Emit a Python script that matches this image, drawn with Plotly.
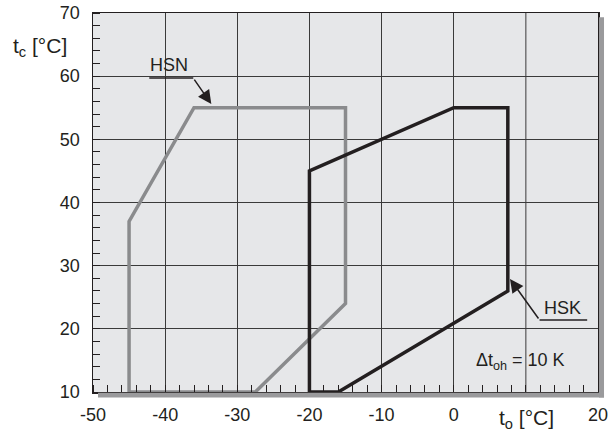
import plotly.graph_objects as go

# HSN envelope (gray)
hsn_to = [-45, -45, -36, -15, -15, -27.5, -45]
hsn_tc = [10, 37, 55, 55, 24, 10, 10]
# HSK envelope (black)
hsk_to = [-20, -20, 0, 7.5, 7.5, -16, -20]
hsk_tc = [10, 45, 55, 55, 26, 10, 10]

x_tickvals = [-50, -40, -30, -20, -10, 0, 20]
x_ticktext = ["-50", "-40", "-30", "-20", "-10", "0", "20"]
y_tickvals = [10, 20, 30, 40, 50, 60, 70]
y_ticktext = ["10", "20", "30", "40", "50", "60", "70"]
x_unlabeled_grid = [10]

FONT = "Liberation Sans, Arial, sans-serif"
TXT = "#231f20"
GRID = "#3a3a3a"

fig = go.Figure()
fig.add_trace(go.Scatter(x=hsn_to, y=hsn_tc, mode="lines",
                         line=dict(color="#8a8b8d", width=3.5), hoverinfo="skip"))
fig.add_trace(go.Scatter(x=hsk_to, y=hsk_tc, mode="lines",
                         line=dict(color="#231f20", width=3.5), hoverinfo="skip"))

# drop shadow of the frame
fig.add_shape(type="rect", xref="paper", yref="paper", x0=0.0099, x1=1.0119,
              y0=-0.0145, y1=-0.002, fillcolor="#9a9a9c", line_width=0, layer="above")
fig.add_shape(type="rect", xref="paper", yref="paper", x0=1.002, x1=1.0119,
              y0=-0.0145, y1=0.989, fillcolor="#9a9a9c", line_width=0, layer="above")

# unlabeled grid line at t_o = 10
for gx in x_unlabeled_grid:
    fig.add_shape(type="line", xref="x", yref="paper", x0=gx, x1=gx, y0=0, y1=1,
                  line=dict(color=GRID, width=1), layer="below")

# leader lines (underlines)
fig.add_shape(type="line", xref="x", yref="y", x0=-42.2, x1=-36.1, y0=59.7, y1=59.7,
              line=dict(color=TXT, width=1.5))
fig.add_shape(type="line", xref="x", yref="y", x0=11.9, x1=18.5, y0=21.4, y1=21.4,
              line=dict(color=TXT, width=1.5))

annos = [
    dict(x=-33.6, y=55.6, ax=-36.1, ay=59.7, xref="x", yref="y", axref="x", ayref="y",
         text="", showarrow=True, arrowhead=2, arrowsize=1.8, arrowwidth=1.5, arrowcolor=TXT),
    dict(x=7.8, y=27.9, ax=11.9, ay=21.4, xref="x", yref="y", axref="x", ayref="y",
         text="", showarrow=True, arrowhead=2, arrowsize=1.8, arrowwidth=1.5, arrowcolor=TXT),
    dict(x=-39.4, y=61.7, xref="x", yref="y", text="HSN", showarrow=False,
         font=dict(size=18, color=TXT, family=FONT)),
    dict(x=15.1, y=23.3, xref="x", yref="y", text="HSK", showarrow=False,
         font=dict(size=18, color=TXT, family=FONT)),
    dict(x=9.3, y=14.9, xref="x", yref="y", text="Δt<sub>oh</sub> = 10 K", showarrow=False,
         font=dict(size=18, color=TXT, family=FONT)),
    dict(x=-0.105, y=0.91, xref="paper", yref="paper", text="t<sub>c</sub> [°C]",
         showarrow=False, xanchor="center", yanchor="middle",
         font=dict(size=21, color=TXT, family=FONT)),
    dict(x=0.859, y=-0.071, xref="paper", yref="paper", text="t<sub>o</sub> [°C]",
         showarrow=False, xanchor="center", yanchor="middle",
         font=dict(size=21, color=TXT, family=FONT)),
]

fig.update_layout(
    width=616, height=436,
    margin=dict(l=93, r=18, t=13, b=44, autoexpand=False),
    paper_bgcolor="white", plot_bgcolor="#e6e7e9",
    showlegend=False,
    font=dict(family=FONT, size=18, color=TXT),
    annotations=annos,
)
fig.update_xaxes(range=[-50, 20], tickvals=x_tickvals, ticktext=x_ticktext,
                 showgrid=True, gridcolor=GRID, gridwidth=1, automargin=False,
                 showline=True, linecolor=TXT, linewidth=1.5, mirror=True,
                 ticks="", zeroline=False, ticklabelstandoff=6,
                 tickfont=dict(size=18),
                 minor=dict(dtick=2, tick0=0, ticks="inside", ticklen=7,
                            tickcolor=TXT, tickwidth=1, showgrid=False))
fig.update_yaxes(range=[10, 70], tickvals=y_tickvals, ticktext=y_ticktext,
                 showgrid=True, gridcolor=GRID, gridwidth=1, automargin=False,
                 showline=True, linecolor=TXT, linewidth=1.5, mirror=True,
                 ticks="", zeroline=False, ticklabelstandoff=8,
                 tickfont=dict(size=18),
                 minor=dict(dtick=2, tick0=0, ticks="inside", ticklen=7,
                            tickcolor=TXT, tickwidth=1, showgrid=False))

fig.write_html("out.html", config={"displayModeBar": False, "staticPlot": True},
               post_script="document.body.style.margin='0';document.body.style.overflow='hidden';")
